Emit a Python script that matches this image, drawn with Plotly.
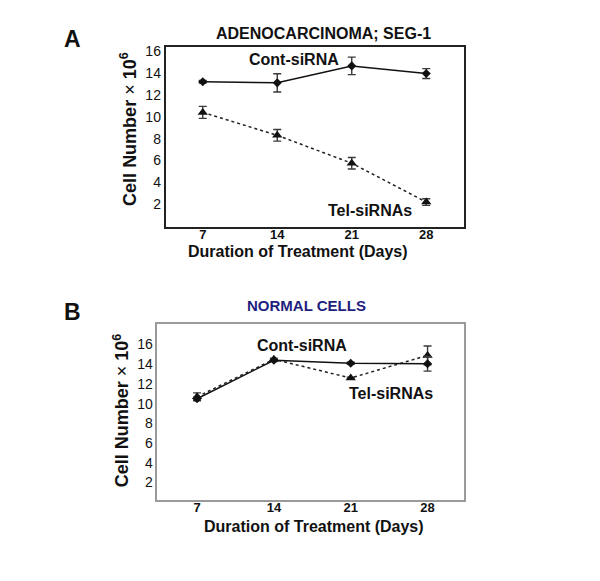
import plotly.graph_objects as go

# ---- data ----
days = [7, 14, 21, 28]
tick_vals_y = [2, 4, 6, 8, 10, 12, 14, 16]

a_cont = [13.2, 13.1, 14.65, 13.95]
a_cont_err = [0.12, 0.83, 0.8, 0.45]
a_tel = [10.4, 8.3, 5.75, 2.2]
a_tel_err = [0.55, 0.53, 0.53, 0.3]

b_cont = [10.5, 14.4, 14.1, 14.05]
b_cont_err = [0.15, 0.12, 0.1, 0.75]
b_tel = [10.7, 14.5, 12.6, 14.9]
b_tel_err = [0.4, 0.12, 0.1, 0.95]

W, H = 600, 581
FONT = "Liberation Sans, Arial, sans-serif"


def px(x, y):
    return x / W, 1 - y / H


fig = go.Figure()


def add_series(xa, ya, cont, cont_err, tel, tel_err):
    fig.add_trace(go.Scatter(
        x=days, y=tel, xaxis=xa, yaxis=ya, mode="lines+markers",
        line=dict(color="#222", width=1.5, dash="dot"),
        marker=dict(symbol="triangle-up", size=9, color="#111"),
        error_y=dict(type="data", array=tel_err, visible=True,
                     color="#3a3a3a", thickness=1.4, width=4),
        showlegend=False))
    fig.add_trace(go.Scatter(
        x=days, y=cont, xaxis=xa, yaxis=ya, mode="lines+markers",
        line=dict(color="#111", width=1.5),
        marker=dict(symbol="diamond", size=7, color="#111"),
        error_y=dict(type="data", array=cont_err, visible=True,
                     color="#3a3a3a", thickness=1.4, width=4),
        showlegend=False))


add_series("x", "y", a_cont, a_cont_err, a_tel, a_tel_err)
add_series("x2", "y2", b_cont, b_cont_err, b_tel, b_tel_err)

xA0, xA1 = px(157.5, 0)[0], px(455.5, 0)[0]
yA0, yA1 = px(0, 216.7)[1], px(0, 35)[1]
xB0, xB1 = px(149.3, 0)[0], px(456, 0)[0]
yB0, yB1 = px(0, 491.7)[1], px(0, 314)[1]

common_x = dict(tickvals=days, ticks="", ticklen=0, showgrid=False, zeroline=False,
                ticklabelstandoff=-6,
                tickfont=dict(family=FONT, size=13, color="#111", weight="bold"),
                mirror=True, showline=True, linewidth=1.5)
common_y = dict(tickvals=tick_vals_y, ticks="", ticklen=0, showgrid=False, zeroline=False,
                tickfont=dict(family=FONT, size=14, color="#111"),
                mirror=True, showline=True, linewidth=1.5)

fig.update_layout(
    width=W, height=H, margin=dict(l=0, r=0, t=0, b=0),
    paper_bgcolor="white", plot_bgcolor="white",
    xaxis=dict(domain=[xA0, xA1], range=[3.5, 31.5], anchor="y",
               linecolor="#222", **common_x),
    yaxis=dict(domain=[yA0, yA1], range=[-0.1, 16.4], anchor="x",
               linecolor="#222", **common_y),
    xaxis2=dict(domain=[xB0, xB1], range=[3.38, 31.32], anchor="y2",
                linecolor="#9a9a9a", **common_x),
    yaxis2=dict(domain=[yB0, yB1], range=[0.2, 18.1], anchor="x2",
                linecolor="#9a9a9a", **common_y),
)


def ann(text, x, y, size, color="#111", bold=True, angle=0):
    ax, ay = px(x, y)
    fig.add_annotation(text=text, x=ax, y=ay, xref="paper", yref="paper",
                       showarrow=False, xanchor="center", yanchor="middle",
                       textangle=angle,
                       font=dict(family=FONT, size=size, color=color,
                                 weight="bold" if bold else "normal"))


ytitle = "<b>Cell Number</b> × <b>10<sup>6</sup></b>"

# Panel A
ann("A", 64.4, 26.7, 23)
ann("ADENOCARCINOMA; SEG-1", 316, 21.7, 16)
ann(ytitle, 120.7, 118, 18, bold=False, angle=-90)
ann("Duration of Treatment (Days)", 290, 241, 16)
ann("Cont-siRNA", 286, 48.3, 16)
ann("Tel-siRNAs", 361.5, 200, 16)

# Panel B
ann("B", 64.4, 301.7, 23)
ann("NORMAL CELLS", 298, 295.5, 15, color="#1f1f80")
ann(ytitle, 113, 401, 18, bold=False, angle=-90)
ann("Duration of Treatment (Days)", 306, 518, 16)
ann("Cont-siRNA", 294, 336, 16)
ann("Tel-siRNAs", 383.3, 384.5, 16)

fig.write_html("out.html")
